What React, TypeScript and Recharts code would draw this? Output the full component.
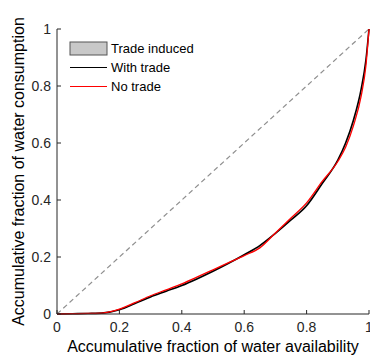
import { ComposedChart, Line, Area, XAxis, YAxis, Legend } from 'recharts'

const waterAvailability = [0, 0.05, 0.1, 0.15, 0.2, 0.25, 0.3, 0.35, 0.4, 0.45, 0.5, 0.55, 0.6, 0.65, 0.7, 0.75, 0.8, 0.85, 0.9, 0.925, 0.95, 0.975, 0.99, 1]
const withTrade = [0, 0.001, 0.002, 0.004, 0.015, 0.037, 0.06, 0.08, 0.1, 0.124, 0.15, 0.178, 0.208, 0.24, 0.283, 0.33, 0.38, 0.458, 0.54, 0.6, 0.68, 0.79, 0.89, 1]
const noTrade = [0, 0.001, 0.002, 0.004, 0.017, 0.04, 0.064, 0.085, 0.106, 0.13, 0.155, 0.18, 0.205, 0.232, 0.284, 0.337, 0.39, 0.465, 0.535, 0.585, 0.66, 0.765, 0.87, 1]
const equalityX = [0, 1]
const equalityY = [0, 1]
const ticks = [0, 0.2, 0.4, 0.6, 0.8, 1]

const legendItems = [
  { label: 'Trade induced', kind: 'patch', color: '#c8c8c8' },
  { label: 'With trade', kind: 'line', color: '#000000' },
  { label: 'No trade', kind: 'line', color: '#ff0000' },
]

const data = waterAvailability.map((x, i) => ({
  x,
  withTrade: withTrade[i],
  noTrade: noTrade[i],
  induced: [Math.min(withTrade[i], noTrade[i]), Math.max(withTrade[i], noTrade[i])],
}))
const diagonal = equalityX.map((x, i) => ({ x, y: equalityY[i] }))

const FONT = '"Liberation Sans", Arial, sans-serif'
const AXIS = '#262626'

function fmt(v: number) {
  return v === 0 || v === 1 ? String(v) : v.toFixed(1)
}

function LegendBox() {
  return (
    <div style={{ fontFamily: FONT, fontSize: 13, color: '#000', lineHeight: '19px' }}>
      {legendItems.map((it) => (
        <div key={it.label} style={{ display: 'flex', alignItems: 'center' }}>
          <svg width={40} height={19} style={{ marginRight: 2 }}>
            {it.kind === 'patch' ? (
              <rect x={1} y={3} width={37} height={13} fill={it.color} stroke="#555" strokeWidth={1} />
            ) : (
              <line x1={1} x2={38} y1={9.5} y2={9.5} stroke={it.color} strokeWidth={1.2} />
            )}
          </svg>
          <span>{it.label}</span>
        </div>
      ))}
    </div>
  )
}

export default function App() {
  const tickStyle = { fill: AXIS, fontSize: 14, fontFamily: FONT }
  return (
    <div style={{ position: 'absolute', left: 0, top: 0, width: 370, height: 359, overflow: 'hidden', background: '#fff' }}>
      <ComposedChart width={380} height={359} data={data} margin={{ top: 29, right: 11, bottom: 0, left: 0 }}>
        <XAxis
          dataKey="x"
          type="number"
          domain={[0, 1]}
          ticks={ticks}
          tickFormatter={fmt}
          tick={tickStyle}
          tickSize={-4}
          tickMargin={12}
          stroke={AXIS}
          height={45}
          label={{ value: 'Accumulative fraction of water availability', position: 'insideBottom', offset: 7, style: { fill: '#000', fontSize: 16, fontFamily: FONT } }}
        />
        <XAxis xAxisId="top" orientation="top" dataKey="x" type="number" domain={[0, 1]} ticks={ticks} tick={false} tickSize={-4} stroke={AXIS} height={0} />
        <YAxis
          type="number"
          domain={[0, 1]}
          ticks={ticks}
          tickFormatter={fmt}
          tick={tickStyle}
          tickSize={-4}
          tickMargin={10}
          stroke={AXIS}
          width={57}
          label={{ value: 'Accumulative fraction of water consumption', angle: -90, position: 'insideLeft', offset: 18, style: { fill: '#000', fontSize: 16, fontFamily: FONT, textAnchor: 'middle' } }}
        />
        <YAxis yAxisId="right" orientation="right" type="number" domain={[0, 1]} ticks={ticks} tick={false} tickSize={-4} stroke={AXIS} width={0} />
        <Legend content={<LegendBox />} layout="horizontal" verticalAlign="middle" align="center" wrapperStyle={{ position: 'absolute', left: 69, top: 39, width: 140 }} />
        <Line data={diagonal} dataKey="y" type="linear" stroke="#8f8f8f" strokeWidth={1.2} strokeDasharray="5 3.5" dot={false} isAnimationActive={false} legendType="none" />
        <Area dataKey="induced" type="monotone" fill="#c8c8c8" fillOpacity={1} stroke="none" isAnimationActive={false} />
        <Line dataKey="withTrade" type="monotone" stroke="#000000" strokeWidth={1.6} dot={false} isAnimationActive={false} />
        <Line dataKey="noTrade" type="monotone" stroke="#ff0000" strokeWidth={1.3} dot={false} isAnimationActive={false} />
      </ComposedChart>
    </div>
  )
}
